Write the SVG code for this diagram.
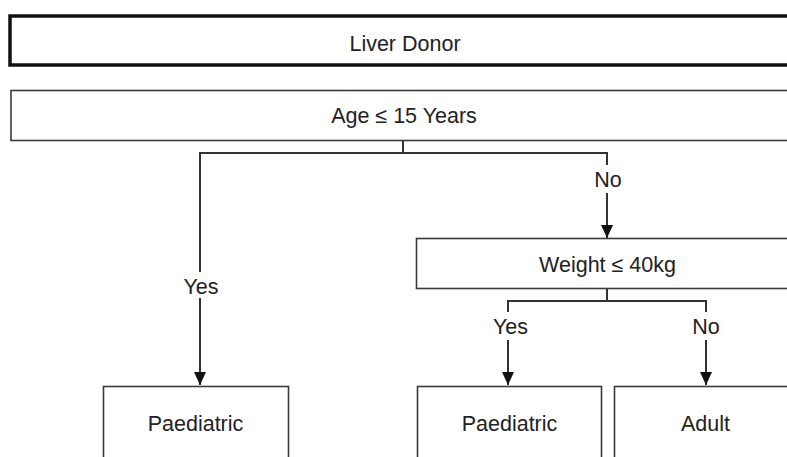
<svg xmlns="http://www.w3.org/2000/svg" width="787" height="457" viewBox="0 0 787 457">
  <style>
    .box { fill: #ffffff; stroke: #3a3a3a; stroke-width: 1.6; }
    .thick { fill: #ffffff; stroke: #111111; stroke-width: 3.5; }
    .t { font-family: "Liberation Sans", Arial, sans-serif; font-size: 21.5px; fill: #222222; text-anchor: middle; }
    .ln { stroke: #333333; stroke-width: 2; fill: none; }
  </style>
  <defs>
    <marker id="arr" markerUnits="userSpaceOnUse" markerWidth="14" markerHeight="14" viewBox="0 0 14 14" refX="13" refY="7" orient="auto">
      <path d="M0,1 L13,7 L0,13 Z" fill="#111111"/>
    </marker>
  </defs>
  <rect width="787" height="457" fill="#ffffff"/>

  <g id="liver-donor">
    <rect class="thick" x="10" y="16" width="800" height="49"/>
    <text class="t" x="405" y="51">Liver Donor</text>
  </g>
  <g id="age">
    <rect class="box" x="11" y="90.5" width="800" height="50"/>
    <text class="t" x="404" y="123">Age ≤ 15 Years</text>
  </g>
  <g id="weight">
    <rect class="box" x="416.5" y="238.5" width="400" height="50"/>
    <text class="t" x="607.5" y="272">Weight ≤ 40kg</text>
  </g>
  <g id="paediatric-1">
    <rect class="box" x="103.5" y="386.5" width="185" height="100"/>
    <text class="t" x="195.5" y="431">Paediatric</text>
  </g>
  <g id="paediatric-2">
    <rect class="box" x="417.5" y="386.5" width="184" height="100"/>
    <text class="t" x="509.5" y="431">Paediatric</text>
  </g>
  <g id="adult">
    <rect class="box" x="614.5" y="386.5" width="300" height="100"/>
    <text class="t" x="705.5" y="431">Adult</text>
  </g>

  <g id="connectors">
    <path class="ln" d="M403,141 V153 M200,153 H607 M200,152 V272"/>
    <path class="ln" d="M200,298 V385" marker-end="url(#arr)"/>
    <path class="ln" d="M607,152 V165"/>
    <path class="ln" d="M607,193 V238" marker-end="url(#arr)"/>
    <path class="ln" d="M607,289 V301 M508,301 H707 M508,300 V312 M706,300 V312"/>
    <path class="ln" d="M508,340 V385" marker-end="url(#arr)"/>
    <path class="ln" d="M706,340 V385" marker-end="url(#arr)"/>
    <text class="t" x="201" y="294">Yes</text>
    <text class="t" x="608" y="187">No</text>
    <text class="t" x="510.5" y="334">Yes</text>
    <text class="t" x="706" y="334">No</text>
  </g>
</svg>
